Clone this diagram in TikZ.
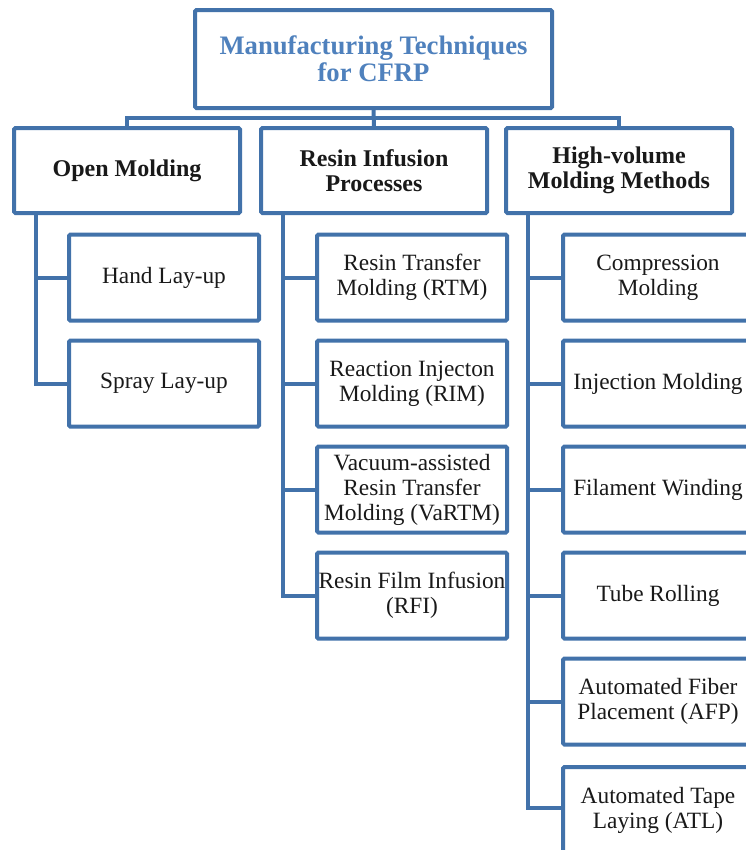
\documentclass[tikz,border=0pt]{standalone}
\usepackage{fontspec}
\setmainfont{Liberation Serif}
\definecolor{linkblue}{RGB}{66,114,170}
\definecolor{titleblue}{RGB}{79,129,189}
\begin{document}
\begin{tikzpicture}[x=0.75pt,y=-0.75pt,
    box/.style={draw=linkblue,line width=3pt,rounded corners=1pt,fill=white,
      align=center,inner sep=0pt,text=black!90},
    rootbox/.style={box,minimum width=267.75pt,minimum height=73.5pt,
      font=\fontsize{20}{20.25}\selectfont\bfseries,text=titleblue},
    groupbox/.style={box,minimum width=169.5pt,minimum height=63.75pt,
      font=\fontsize{18}{18.75}\selectfont\bfseries},
    itembox/.style={box,minimum width=142.5pt,minimum height=64.5pt,
      font=\fontsize{17.5}{18.75}\selectfont},
    link/.style={draw=linkblue,line width=3pt}]
  \useasboundingbox (0,0) rectangle (746,850);

  % Top
  \node[rootbox] (root) at (373.5,59) {Manufacturing Techniques\\for CFRP};

  % Groups
  \node[groupbox] (om) at (127,170.5) {Open Molding};
  \node[groupbox] (ri) at (374,170.5) {Resin Infusion\\Processes};
  \node[groupbox] (hv) at (619,170.5) {High-volume\\Molding Methods};

  % Open molding
  \node[itembox] (hl) at (164,277.5) {Hand Lay-up};
  \node[itembox] (sl) at (164,383.5) {Spray Lay-up};

  % Resin infusion
  \node[itembox] (rtm) at (412,277.5) {Resin Transfer\\Molding (RTM)};
  \node[itembox] (rim) at (412,383.5) {Reaction Injecton\\Molding (RIM)};
  \node[itembox] (vartm) at (412,489.5) {Vacuum-assisted\\Resin Transfer\\Molding (VaRTM)};
  \node[itembox] (rfi) at (412,595.5) {Resin Film Infusion\\(RFI)};

  % High-volume
  \node[itembox] (cm) at (658,277.5) {Compression\\Molding};
  \node[itembox] (im) at (658,383.5) {Injection Molding};
  \node[itembox] (fw) at (658,489.5) {Filament Winding};
  \node[itembox] (tr) at (658,595.5) {Tube Rolling};
  \node[itembox] (afp) at (658,701.5) {Automated Fiber\\Placement (AFP)};
  \node[itembox] (atl) at (658,810) {Automated Tape\\Laying (ATL)};

  % Connectors
  \coordinate (bus) at (373.5,118);
  \draw[link] (root.south) -- (ri.north);
  \draw[link] (om.north) |- (bus) -| (hv.north);

  \foreach \c in {hl,sl}
    \draw[link] ([xshift=18pt]om.south west) |- (\c.west);
  \foreach \c in {rtm,rim,vartm,rfi}
    \draw[link] ([xshift=18pt]ri.south west) |- (\c.west);
  \foreach \c in {cm,im,fw,tr,afp}
    \draw[link] ([xshift=18pt]hv.south west) |- (\c.west);
  \draw[link] ([xshift=18pt]hv.south west) |- ([yshift=1.5pt]atl.west);
\end{tikzpicture}
\end{document}
